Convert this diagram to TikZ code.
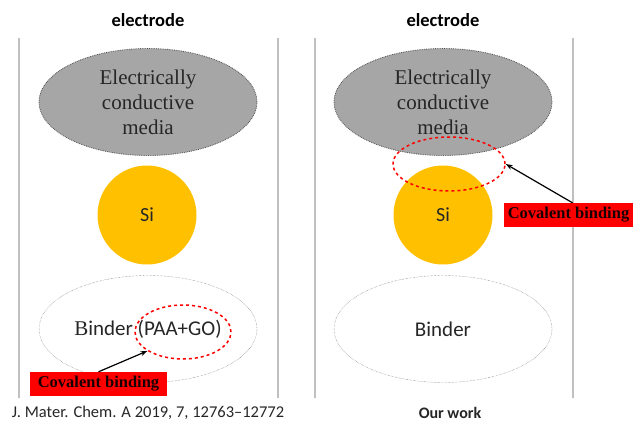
\documentclass[tikz,border=0pt]{standalone}
\usepackage{fontspec}
\setmainfont{Liberation Serif}
\setsansfont{Carlito}
\usetikzlibrary{shapes.geometric,arrows.meta}
\definecolor{sigold}{HTML}{FFC000}
\definecolor{medgray}{HTML}{A6A6A6}
\definecolor{linegray}{HTML}{C0C0C0}
\tikzset{
  sep/.style={draw=linegray, line width=1.8pt},
  media/.style={ellipse, fill=medgray, draw=black!70, densely dotted, thick, minimum width=218pt, minimum height=107pt, inner sep=0pt, align=center, font=\fontsize{21}{25}\selectfont\rmfamily, text=black!85},
  sicircle/.style={circle, fill=sigold, minimum size=99pt, inner sep=0pt, font=\fontsize{20}{24}\selectfont\sffamily, text=black!85},
  binder/.style={ellipse, draw=black!65, densely dotted, minimum width=218pt, minimum height=107pt, inner sep=0pt, font=\fontsize{21}{25}\selectfont\sffamily, text=black!85},
  redring/.style={ellipse, draw=red, dashed, line width=1.5pt, inner sep=0pt},
  redbox/.style={fill=red, inner sep=0pt, font=\fontsize{16.5}{19}\selectfont\rmfamily\bfseries, text=black!90!red},
  title/.style={font=\fontsize{18.5}{22}\selectfont\sffamily\bfseries},
  caption/.style={font=\fontsize{16.5}{19}\selectfont\sffamily, text=black!85},
  arr/.style={-{Stealth[length=7pt,width=5pt]}, line width=1.2pt}
}
\begin{document}
\begin{tikzpicture}[x=1pt,y=-1pt]
\useasboundingbox (0,0) rectangle (634,423);
% separators
\coordinate (l1t) at (19,38); \coordinate (l1b) at (19,398);
\coordinate (l2t) at (278,38); \coordinate (l2b) at (278,398);
\coordinate (l3t) at (315,38); \coordinate (l3b) at (315,398);
\coordinate (l4t) at (573,38); \coordinate (l4b) at (573,398);
\draw[sep] (l1t) -- (l1b);
\draw[sep] (l2t) -- (l2b);
\draw[sep] (l3t) -- (l3b);
\draw[sep] (l4t) -- (l4b);
% titles
\node[title] (tl) at (148,20) {electrode};
\node[title] (tr) at (443,20) {electrode};
% left column
\node[media] (ml) at (148,102) {Electrically\\conductive\\media};
\node[sicircle] (sl) at (147,215) {Si};
\node[binder] (bl) at (148,329) {\rmfamily B\sffamily inder (PAA+GO)};
\node[redring, minimum width=96pt, minimum height=54pt] (rl) at (183,332) {};
\node[redbox, minimum width=137pt, minimum height=24pt] (boxl) at (98.5,384) {Covalent binding};
\draw[arr] (boxl.north) -- (rl.208);
% right column
\node[media] (mr) at (443,102) {Electrically\\conductive\\media};
\node[sicircle] (sr) at (443,215) {Si};
\node[binder] (br) at (443,329) {Binder};
\node[redring, minimum width=112pt, minimum height=54pt] (rr) at (449,164) {};
\node[redbox, minimum width=129pt, minimum height=24pt] (boxr) at (568.5,215) {Covalent binding};
\draw[arr] ([xshift=4pt]boxr.north) -- (rr.east);
% captions
\node[caption] (cl) at (148,413) {J. Mater. Chem. A 2019, 7, 12763--12772};
\node[caption, font=\fontsize{16}{19}\selectfont\sffamily\bfseries] (cr) at (450,413) {Our work};
\end{tikzpicture}
\end{document}
